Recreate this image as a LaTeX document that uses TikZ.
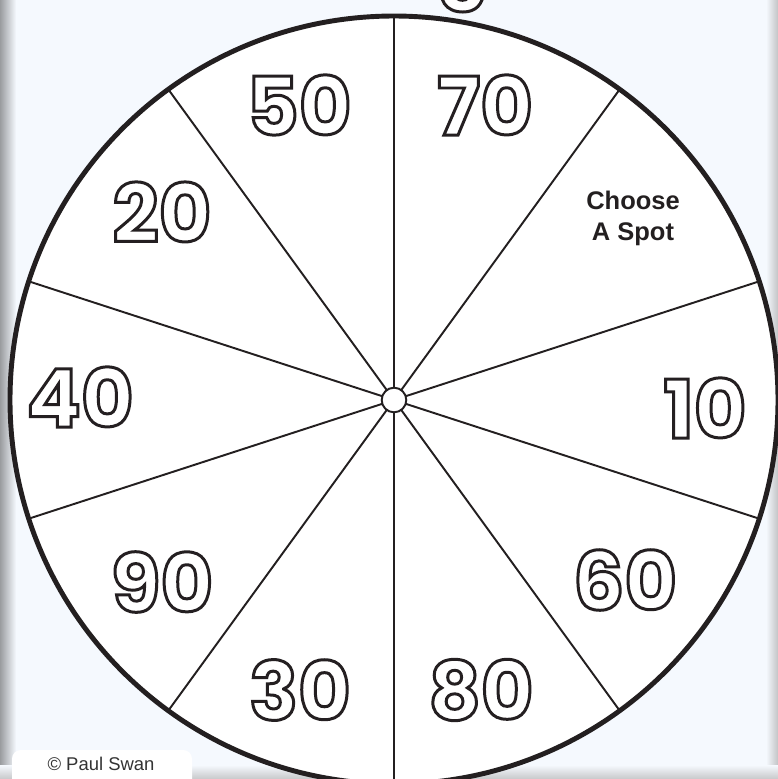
\documentclass[tikz,border=0pt]{standalone}
\usepackage{fontspec}
\setmainfont{Liberation Sans}
\newfontfamily\digitfont{Poppins}
\usepackage{xcolor}
\definecolor{paper}{HTML}{F5F9FE}
\definecolor{ink}{HTML}{231F20}
\definecolor{edge}{HTML}{9A9C9F}
\newcommand{\ringnum}[1]{\textcolor{white}{\special{pdf:literal direct 2 Tr 1.7 w 0.14 0.12 0.13 RG}#1\special{pdf:literal direct 0 Tr 1 w}}}

\begin{document}
\begin{tikzpicture}[
  x=0.02cm, y=-0.02cm,
  rim/.style={line width=2.8pt, ink},
  spoke/.style={line width=1.1pt, ink},
  num/.style={font=\digitfont\bfseries\fontsize{46}{46}\selectfont, inner sep=0pt},
  tag/.style={font=\bfseries\fontsize{14.5}{17.6}\selectfont, text=ink, align=center, inner sep=0pt},
  credit/.style={font=\fontsize{10.5}{12}\selectfont, text=black!80, inner sep=0pt}
]
  \useasboundingbox (0,0) rectangle (778,779);
  \fill[paper] (0,0) rectangle (778,779);
  % page edges
  \shade[left color=edge, right color=paper] (0,0) rectangle (16,779);
  \shade[left color=paper, right color=edge!60] (766,0) rectangle (778,779);
  \shade[top color=paper, bottom color=edge!55] (0,765) rectangle (778,779);

  % the wheel
  \coordinate (ctr) at (394,400);
  \fill[white] (ctr) circle[radius=384];
  \foreach \a in {18,54,...,342}
    \draw[spoke] (ctr) -- ++(\a:384);
  \draw[rim] (ctr) circle[radius=384];
  \node[circle, draw=ink, fill=white, line width=1.1pt, minimum size=14pt, inner sep=0pt] (hub) at (ctr) {};

  % sector labels
  \node[num] (n50) at (299,105) {\ringnum{50}};
  \node[num] (n70) at (485,105) {\ringnum{70}};
  \node[num] (n20) at (162,212) {\ringnum{20}};
  \node[tag] (spot) at (633,218) {Choose\\A Spot};
  \node[num] (n40) at (80,397) {\ringnum{40}};
  \node[num] (n10) at (705,408) {\ringnum{10}};
  \node[num] (n90) at (162,582) {\ringnum{90}};
  \node[num] (n60) at (625,580) {\ringnum{60}};
  \node[num] (n30) at (300,690) {\ringnum{30}};
  \node[num] (n80) at (481,690) {\ringnum{80}};
  \node[num, anchor=base] (top) at (461,12) {\ringnum{5}};

  % credit
  \fill[white, rounded corners=5pt] (12,750) rectangle (192,795);
  \node[credit] (copy) at (101,764) {© Paul Swan};
\end{tikzpicture}
\end{document}
